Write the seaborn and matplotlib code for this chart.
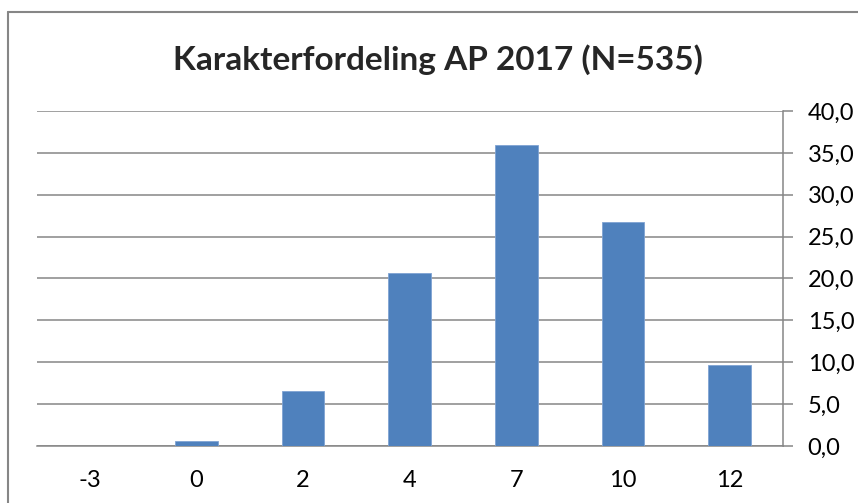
import matplotlib
matplotlib.use('Agg')
import matplotlib.pyplot as plt
from matplotlib.lines import Line2D
from matplotlib.ticker import FuncFormatter, FixedLocator
import seaborn as sns
import pandas as pd

# Grade distribution (percent of students)
grades = ['-3', '0', '2', '4', '7', '10', '12']
percent = [0.0, 0.6, 6.5, 20.6, 35.9, 26.7, 9.7]
title = 'Karakterfordeling AP 2017 (N=535)'

df = pd.DataFrame({'grade': grades, 'percent': percent})

sns.set_style('white')
plt.rcParams['font.family'] = ['Lato', 'DejaVu Sans']

fig = plt.figure(figsize=(8.58, 5.03), dpi=100)
ax = fig.add_axes([36.7 / 858, 1 - 445.9 / 503, 746 / 858, (445.9 - 111) / 503])

sns.barplot(data=df, x='grade', y='percent', order=grades, color='#4F81BD',
            saturation=1, width=0.4, edgecolor='#7FA3D3', linewidth=0.6, ax=ax, zorder=3)

grid_col = '#868686'
ax.set_xlim(-0.5, len(grades) - 0.5)
ax.set_ylim(0, 40)
ax.set_yticks(range(0, 41, 5))
ax.yaxis.set_major_formatter(FuncFormatter(lambda v, p: f'{v:.1f}'.replace('.', ',')))
ax.yaxis.tick_right()
ax.grid(axis='y', color=grid_col, linewidth=1.1, zorder=0)
ax.set_axisbelow(True)

ax.xaxis.set_minor_locator(FixedLocator([i - 0.5 for i in range(len(grades) + 1)]))
ax.tick_params(axis='x', which='major', length=0, pad=17, labelsize=17, labelcolor='black')
ax.tick_params(axis='x', which='minor', length=7, width=1.1, color=grid_col, direction='out')
ax.tick_params(axis='y', which='major', length=7, width=1.1, color=grid_col, pad=11,
               labelsize=17, labelcolor='black', right=True, left=False)

ax.set_xlabel('')
ax.set_ylabel('')
for side in ['top', 'left']:
    ax.spines[side].set_visible(False)
for side in ['bottom', 'right']:
    ax.spines[side].set_color(grid_col)
    ax.spines[side].set_linewidth(1.1)

fig.text(438 / 858, 1 - 60 / 503, title, ha='center', va='center',
         fontsize=24, fontweight='bold')

# chart area border (top and left edges visible)
bx, by = 8 / 858, 1 - 12 / 503
fig.lines.append(Line2D([bx, 1.0], [by, by], transform=fig.transFigure,
                        color=grid_col, linewidth=1.5))
fig.lines.append(Line2D([bx, bx], [0.0, by], transform=fig.transFigure,
                        color=grid_col, linewidth=1.5))

fig.savefig('out.png', dpi=100)
